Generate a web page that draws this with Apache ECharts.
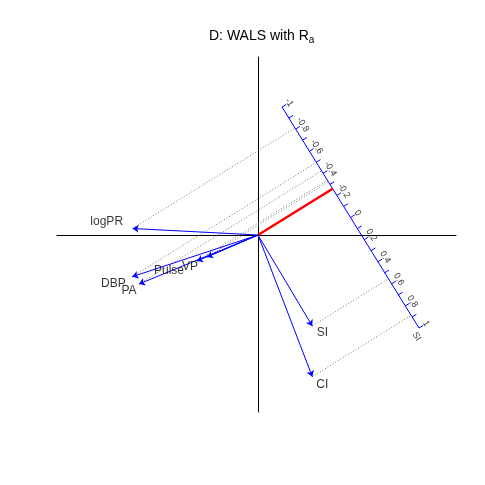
<!DOCTYPE html>
<html>
<head>
<meta charset="utf-8">
<script src="https://cdn.jsdelivr.net/npm/echarts@6/dist/echarts.min.js"></script>
<style>
html,body{margin:0;padding:0;background:#fff;}
#main{width:485px;height:485px;}
</style>
</head>
<body>
<div id="main"></div>
<script>
// variable arrows (biplot coordinates)
var varNames = ['logPR', 'DBP', 'PA', 'Pulse', 'VP', 'SI', 'CI'];
var varX = [-1.253, -1.257, -1.19, -0.61, -0.51, 0.543, 0.543];
var varY = [0.065, -0.417, -0.49, -0.26, -0.22, -0.91, -1.417];

// calibrated axis for SI: where value 0 sits, and the step for one unit
var calName = 'SI';
var calZero = [0.925, 0.175];
var calStep = [0.685, -1.105];
var calMajor = [-1, -0.8, -0.6, -0.4, -0.2, 0, 0.2, 0.4, 0.6, 0.8, 1];
var calMinor = [-0.9, -0.7, -0.5, -0.3, -0.1, 0.1, 0.3, 0.5, 0.7, 0.9];

// label shifts in px (label centre relative to arrow tip)
var labelShift = {
    logPR: [-26, -7], DBP: [-19, 7], PA: [-10, 7], Pulse: [-28, 10],
    VP: [-17, 10], SI: [10, 7], CI: [10, 8]
};

var font = 'Liberation Sans, Arial, Helvetica, sans-serif';
var len2 = calStep[0] * calStep[0] + calStep[1] * calStep[1];
var len = Math.sqrt(len2);
var u = [calStep[0] / len, calStep[1] / len];
var n = [-u[1], u[0]];            // normal pointing to the upper right
if (n[0] < 0) { n = [-n[0], -n[1]]; }
var ang = Math.atan2(calStep[1], calStep[0]) * 180 / Math.PI;

function calPoint(v) {
    return [calZero[0] + v * calStep[0], calZero[1] + v * calStep[1]];
}
function foot(p) {
    var t = ((p[0] - calZero[0]) * calStep[0] + (p[1] - calZero[1]) * calStep[1]) / len2;
    return calPoint(t);
}

var arrows = [], dots = [], names = [];
varNames.forEach(function (nm, i) {
    var p = [varX[i], varY[i]];
    arrows.push({coords: [[0, 0], p]});
    dots.push({coords: [p, foot(p)]});
    names.push({name: nm, value: p, label: {offset: labelShift[nm]}});
});

var ticks = [];
calMajor.concat(calMinor).forEach(function (v) {
    var a = calPoint(v);
    ticks.push({coords: [a, [a[0] + n[0] * 0.05, a[1] + n[1] * 0.05]]});
});
var tickLabels = calMajor.map(function (v) {
    var a = calPoint(v);
    return {name: String(v), value: [a[0] + n[0] * 0.085, a[1] + n[1] * 0.085]};
});
var endPt = calPoint(calMajor[calMajor.length - 1]);
tickLabels.push({name: calName, value: [endPt[0] + u[0] * 0.06 - n[0] * 0.065, endPt[1] + u[1] * 0.06 - n[1] * 0.065]});

var chart = echarts.init(document.getElementById('main'));
var option = {
    animation: false,
    backgroundColor: '#fff',
    title: {
        text: '{m|D: WALS with R}{s|a}',
        left: 204,
        top: 22,
        textStyle: {
            rich: {
                m: {fontFamily: font, fontSize: 14, fontWeight: 'normal', color: '#000', lineHeight: 18},
                s: {fontFamily: font, fontSize: 10, fontWeight: 'normal', color: '#000', padding: [8, 0, 0, 0]}
            }
        }
    },
    grid: {left: 57, top: 57, width: 399, height: 355},
    xAxis: {
        type: 'value', min: -2.01, max: 1.98,
        axisLine: {onZero: true, lineStyle: {color: '#000', width: 1}},
        axisTick: {show: false}, axisLabel: {show: false}, splitLine: {show: false}
    },
    yAxis: {
        type: 'value', min: -1.77, max: 1.78,
        axisLine: {onZero: true, lineStyle: {color: '#000', width: 1}},
        axisTick: {show: false}, axisLabel: {show: false}, splitLine: {show: false}
    },
    series: [
        {
            type: 'lines', coordinateSystem: 'cartesian2d', z: 2, silent: true,
            lineStyle: {color: '#777', width: 1, type: [1, 2], opacity: 1},
            data: dots
        },
        {
            type: 'lines', coordinateSystem: 'cartesian2d', z: 3, silent: true,
            lineStyle: {color: '#0000ff', width: 1, opacity: 1},
            data: [{coords: [calPoint(-1), calPoint(1)]}].concat(ticks)
        },
        {
            type: 'lines', coordinateSystem: 'cartesian2d', z: 4, silent: true,
            lineStyle: {color: '#ff0000', width: 2.5, opacity: 1},
            data: [{coords: [[0, 0], foot([0, 0])]}]
        },
        {
            type: 'lines', coordinateSystem: 'cartesian2d', z: 5, silent: true,
            symbol: ['none', 'arrow'], symbolSize: [4, 6],
            lineStyle: {color: '#0000ff', width: 1, opacity: 1},
            data: arrows
        },
        {
            type: 'scatter', symbolSize: 0, z: 6, silent: true,
            label: {
                show: true, position: 'inside', formatter: '{b}',
                fontFamily: font, fontSize: 12, color: '#000'
            },
            data: names
        },
        {
            type: 'scatter', symbolSize: 0, z: 6, silent: true,
            label: {
                show: true, position: 'inside', formatter: '{b}', rotate: ang,
                fontFamily: font, fontSize: 9, color: '#000'
            },
            data: tickLabels
        }
    ]
};
chart.setOption(option);
</script>
</body>
</html>
